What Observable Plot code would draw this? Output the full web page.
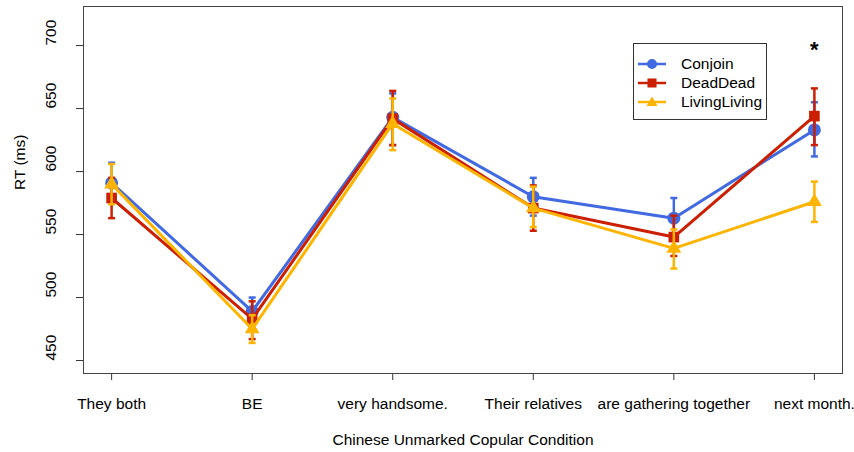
<!DOCTYPE html>
<html>
<head>
<meta charset="utf-8">
<script src="https://cdn.jsdelivr.net/npm/d3@7"></script>
<script src="https://cdn.jsdelivr.net/npm/@observablehq/plot@0.6"></script>
<style>
  html, body { margin: 0; padding: 0; background: white; }
  #wrap { position: relative; width: 854px; height: 452px; font-family: "Liberation Sans", Arial, sans-serif; }
  #legend { position: absolute; left: 633px; top: 43px; width: 134px; height: 77px; border: 1px solid #333; background: white; padding-top: 10.5px; box-sizing: border-box; }
  .row { display: flex; align-items: center; height: 19px; font-size: 15.5px; color: #000; }
  .row svg { margin-left: 3px; margin-right: 14px; }
</style>
</head>
<body>
<div id="wrap"></div>
<script>
const categories = ["They both", "BE", "very handsome.", "Their relatives", "are gathering together", "next month."];
const yTicks = [450, 500, 550, 600, 650, 700];

const seriesNames = ["Conjoin", "DeadDead", "LivingLiving"];
const seriesColors = ["#4169E1", "#CC1F00", "#FFB400"];

const conjoinMean = [591, 489, 643, 580, 563, 633];
const conjoinLow  = [575, 478, 621, 565, 548, 612];
const conjoinHigh = [607, 500, 662, 595, 579, 655];

const deadMean = [579, 483, 642, 571, 548, 644];
const deadLow  = [563, 467, 621, 553, 533, 621];
const deadHigh = [595, 497, 664, 589, 565, 666];

const livingMean = [590, 475, 638, 571, 539, 576];
const livingLow  = [574, 464, 617, 556, 523, 560];
const livingHigh = [606, 486, 658, 588, 554, 592];

const sigLabels = [{cat: 6, y: 698, text: "*"}];

const series = [
  {name: seriesNames[0], color: seriesColors[0], symbol: "circle", r: 6.5, mean: conjoinMean, lo: conjoinLow, hi: conjoinHigh},
  {name: seriesNames[1], color: seriesColors[1], symbol: "square", r: 6, mean: deadMean, lo: deadLow, hi: deadHigh},
  {name: seriesNames[2], color: seriesColors[2], symbol: "triangle", r: 5.5, mean: livingMean, lo: livingLow, hi: livingHigh}
];

const capSymbol = {
  draw(ctx, size) {
    const w = Math.sqrt(size / Math.PI);
    ctx.moveTo(-w, 0);
    ctx.lineTo(w, 0);
  }
};

const seriesMarks = series.flatMap(s => {
  const rows = categories.map((c, i) => ({x: i + 1, y: s.mean[i], lo: s.lo[i], hi: s.hi[i]}));
  return [
    Plot.line(rows, {x: "x", y: "y", stroke: s.color, strokeWidth: 3}),
    Plot.ruleX(rows, {x: "x", y1: "lo", y2: "hi", stroke: s.color, strokeWidth: 2.5}),
    Plot.dot(rows, {x: "x", y: "lo", symbol: capSymbol, r: 3.5, stroke: s.color, strokeWidth: 2.5}),
    Plot.dot(rows, {x: "x", y: "hi", symbol: capSymbol, r: 3.5, stroke: s.color, strokeWidth: 2.5}),
    Plot.dot(rows, {x: "x", y: "y", symbol: s.symbol, r: s.r, fill: s.color, stroke: "none"})
  ];
});

const chart = Plot.plot({
  width: 854,
  height: 452,
  marginLeft: 83,
  marginRight: 12,
  marginTop: 6,
  marginBottom: 79,
  x: {type: "linear", domain: [0.8, 6.2]},
  y: {domain: [439.7, 731]},
  style: {fontFamily: "'Liberation Sans', Arial, sans-serif", fontSize: "15.5px", color: "#000", background: "white"},
  marks: [
    Plot.axisY(yTicks, {tickSize: 7, tickFormat: () => "", label: null, stroke: "#333"}),
    Plot.text(yTicks, {frameAnchor: "left", y: d => d, text: d => String(d), rotate: -90, dx: -32, fill: "#000"}),
    Plot.axisX([1, 2, 3, 4, 5, 6], {tickSize: 7, tickPadding: 17, tickFormat: i => categories[i - 1], label: null, stroke: "#333", fill: "#000"}),
    Plot.text(["Chinese Unmarked Copular Condition"], {frameAnchor: "bottom", text: d => d, dy: 71, fill: "#000"}),
    Plot.text(["RT (ms)"], {frameAnchor: "left", text: d => d, rotate: -90, dx: -63, fill: "#000"}),
    Plot.frame({stroke: "#444"}),
    ...seriesMarks,
    Plot.text(sigLabels, {x: "cat", y: "y", text: "text", fontSize: 22, fontWeight: "bold", fill: "#000", dy: 2})
  ]
});

const wrap = document.getElementById("wrap");
wrap.appendChild(chart);

const legend = document.createElement("div");
legend.id = "legend";
const swatchShape = {
  circle: c => `<circle cx="15" cy="8" r="5" fill="${c}"/>`,
  square: c => `<rect x="10.5" y="3.5" width="9" height="9" fill="${c}"/>`,
  triangle: c => `<path d="M15,2.5 L20.5,12 L9.5,12 Z" fill="${c}"/>`
};
series.forEach(s => {
  const row = document.createElement("div");
  row.className = "row";
  row.innerHTML = `<svg width="30" height="16"><line x1="1" x2="29" y1="8" y2="8" stroke="${s.color}" stroke-width="2.5"/>${swatchShape[s.symbol](s.color)}</svg><span>${s.name}</span>`;
  legend.appendChild(row);
});
wrap.appendChild(legend);
</script>
</body>
</html>
